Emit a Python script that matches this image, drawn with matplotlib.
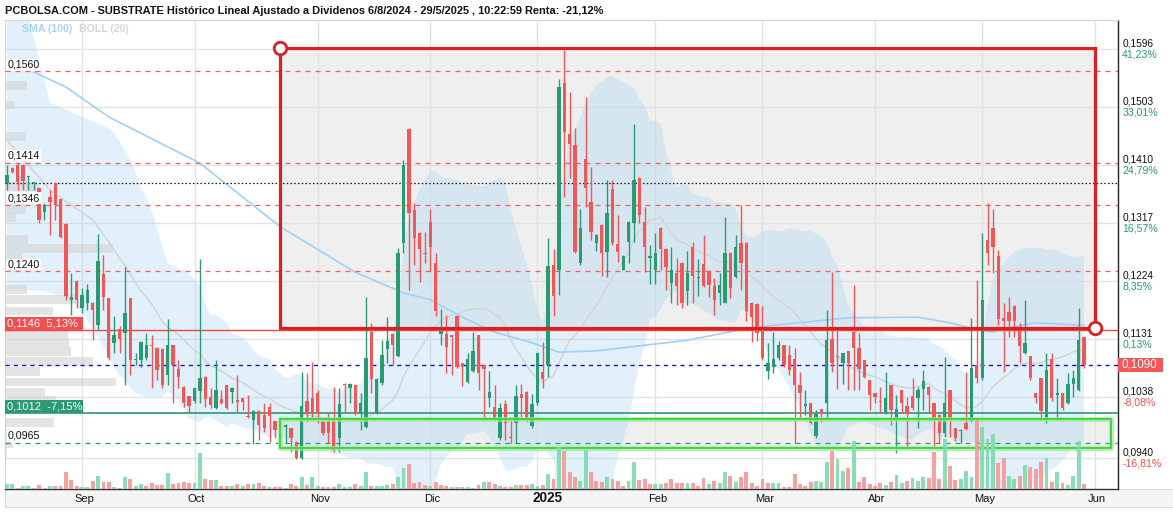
import numpy as np
import pandas as pd
import matplotlib
matplotlib.use('Agg')
import matplotlib.pyplot as plt
from matplotlib.patches import Rectangle
from matplotlib.transforms import blended_transform_factory

# ---- daily OHLC (13/8/2024 .. 29/5/2025) ----
opens = [0.1381,0.1405,0.1410,0.1410,0.1391,0.1381,0.1373,0.1335,0.1359,0.1381,
         0.1356,0.1316,0.1194,0.1224,0.1181,0.1189,0.1189,0.1154,0.1235,0.1196,
         0.1125,0.1147,0.1141,0.1196,0.1098,0.1098,0.1100,0.1122,0.1117,0.1115,
         0.1073,0.1121,0.1083,0.1054,0.1039,0.1031,0.1048,0.1070,0.1038,0.1020,
         0.1035,0.1057,0.1046,0.1033,0.1036,0.1007,0.1001,0.1016,0.1009,0.1022,
         0.0999,0.0977,0.0990,0.0988,0.0966,0.0940,0.1031,0.1036,0.1044,0.0999,
         0.0999,0.1001,0.0972,0.1059,0.1052,0.1057,0.1012,0.0990,0.1143,0.1012,
         0.1060,0.1115,0.1139,0.1103,0.1285,0.1468,0.1338,0.1301,0.1268,0.1319,
         0.1253,0.1139,0.1139,0.1137,0.1168,0.1092,0.1062,0.1079,0.1137,0.1089,
         0.1036,0.1022,0.0972,0.1026,0.0973,0.0996,0.1043,0.1046,0.0991,0.1028,
         0.1078,0.1089,0.1250,0.1242,0.1542,0.1460,0.1442,0.1253,0.1420,0.1351,
         0.1285,0.1314,0.1271,0.1372,0.1284,0.1242,0.1287,0.1317,0.1389,0.1319,
         0.1261,0.1242,0.1309,0.1276,0.1221,0.1237,0.1253,0.1208,0.1279,0.1229,
         0.1251,0.1240,0.1216,0.1205,0.1189,0.1269,0.1231,0.1285,0.1285,0.1189,
         0.1187,0.1146,0.1079,0.1086,0.1100,0.1121,0.1105,0.1099,0.1057,0.1023,
         0.1028,0.0975,0.1018,0.1028,0.1131,0.1104,0.1092,0.1111,0.1143,0.1117,
         0.1097,0.1065,0.1044,0.1031,0.1012,0.1057,0.1001,0.1049,0.1023,0.1039,
         0.1036,0.1051,0.1054,0.1028,0.1009,0.0980,0.1049,0.0988,0.0984,0.0996,
         0.0999,0.1089,0.1068,0.1290,0.1309,0.1264,0.1165,0.1175,0.1184,0.1144,
         0.1108,0.1103,0.1044,0.1068,0.1001,0.1099,0.1041,0.1044,0.1028,0.1059,
         0.1049,0.1134]
highs = [0.1410,0.1407,0.1413,0.1412,0.1393,0.1383,0.1374,0.1349,0.1370,0.1383,
         0.1357,0.1317,0.1237,0.1225,0.1213,0.1220,0.1190,0.1300,0.1266,0.1197,
         0.1168,0.1152,0.1247,0.1197,0.1108,0.1128,0.1141,0.1137,0.1118,0.1116,
         0.1163,0.1122,0.1097,0.1055,0.1040,0.1053,0.1260,0.1071,0.1052,0.1097,
         0.1049,0.1058,0.1054,0.1073,0.1037,0.1041,0.1017,0.1017,0.1028,0.1028,
         0.1000,0.0980,0.0994,0.0989,0.0967,0.1078,0.1076,0.1094,0.1049,0.1000,
         0.1012,0.1054,0.1052,0.1060,0.1060,0.1058,0.1044,0.1198,0.1157,0.1068,
         0.1129,0.1166,0.1140,0.1277,0.1418,0.1469,0.1349,0.1302,0.1303,0.1340,
         0.1269,0.1179,0.1170,0.1138,0.1169,0.1093,0.1108,0.1143,0.1138,0.1090,
         0.1079,0.1057,0.1028,0.1033,0.1001,0.1057,0.1059,0.1047,0.1043,0.1109,
         0.1127,0.1293,0.1276,0.1548,0.1594,0.1527,0.1469,0.1340,0.1519,0.1407,
         0.1299,0.1315,0.1386,0.1386,0.1330,0.1265,0.1320,0.1476,0.1390,0.1343,
         0.1282,0.1301,0.1310,0.1277,0.1279,0.1261,0.1254,0.1272,0.1287,0.1260,
         0.1298,0.1241,0.1229,0.1237,0.1327,0.1270,0.1298,0.1346,0.1286,0.1190,
         0.1188,0.1184,0.1124,0.1143,0.1128,0.1122,0.1121,0.1116,0.1078,0.1050,
         0.1029,0.1017,0.1019,0.1178,0.1239,0.1146,0.1109,0.1112,0.1218,0.1140,
         0.1098,0.1066,0.1045,0.1054,0.1078,0.1058,0.1041,0.1050,0.1038,0.1068,
         0.1054,0.1081,0.1055,0.1029,0.1010,0.1102,0.1050,0.0989,0.0986,0.1078,
         0.1165,0.1226,0.1301,0.1349,0.1340,0.1274,0.1189,0.1198,0.1185,0.1157,
         0.1194,0.1104,0.1045,0.1069,0.1108,0.1108,0.1068,0.1045,0.1076,0.1081,
         0.1181,0.1135]
lows = [0.1370,0.1397,0.1370,0.1370,0.1370,0.1370,0.1317,0.1322,0.1298,0.1322,
        0.1293,0.1194,0.1170,0.1181,0.1173,0.1178,0.1129,0.1146,0.1178,0.1098,
        0.1108,0.1108,0.1057,0.1073,0.1089,0.1086,0.1097,0.1052,0.1065,0.1052,
        0.1057,0.1028,0.1052,0.1022,0.1012,0.1028,0.1028,0.1022,0.1020,0.1019,
        0.1027,0.1019,0.1028,0.1012,0.1017,0.1005,0.0963,0.0969,0.0982,0.0966,
        0.0972,0.0976,0.0964,0.0950,0.0939,0.0938,0.0998,0.1001,0.0996,0.0977,
        0.0964,0.0950,0.0950,0.1012,0.1028,0.1009,0.0985,0.0988,0.1044,0.1010,
        0.1057,0.1092,0.1089,0.1102,0.1269,0.1210,0.1250,0.1223,0.1253,0.1240,
        0.1168,0.1121,0.1076,0.1073,0.1084,0.1055,0.1060,0.1078,0.1049,0.1001,
        0.1022,0.1001,0.0969,0.0969,0.0964,0.0964,0.1006,0.0998,0.0988,0.1025,
        0.1052,0.1070,0.1168,0.1202,0.1359,0.1389,0.1269,0.1250,0.1343,0.1290,
        0.1272,0.1232,0.1231,0.1282,0.1255,0.1241,0.1253,0.1287,0.1317,0.1239,
        0.1220,0.1220,0.1242,0.1210,0.1189,0.1186,0.1181,0.1186,0.1188,0.1200,
        0.1214,0.1198,0.1170,0.1186,0.1188,0.1196,0.1229,0.1210,0.1160,0.1126,
        0.1128,0.1098,0.1067,0.1076,0.1097,0.1086,0.1073,0.0964,0.1003,0.1009,
        0.0994,0.0972,0.0998,0.1003,0.1078,0.1051,0.1059,0.1049,0.1049,0.1049,
        0.1068,0.1017,0.1028,0.1012,0.1011,0.0993,0.0948,0.1012,0.0958,0.1017,
        0.0988,0.1017,0.1014,0.0959,0.0964,0.0974,0.0974,0.0967,0.0964,0.0985,
        0.0998,0.1060,0.1065,0.1250,0.1237,0.1154,0.1078,0.1134,0.1134,0.1092,
        0.1107,0.1066,0.1028,0.1001,0.0996,0.1031,0.1004,0.1017,0.1026,0.1038,
        0.1048,0.1084]
closes = [0.1394,0.1399,0.1383,0.1384,0.1392,0.1382,0.1322,0.1346,0.1351,0.1346,
          0.1295,0.1200,0.1199,0.1194,0.1202,0.1210,0.1178,0.1256,0.1198,0.1100,
          0.1137,0.1131,0.1173,0.1097,0.1099,0.1127,0.1121,0.1119,0.1081,0.1057,
          0.1121,0.1089,0.1070,0.1028,0.1023,0.1052,0.1068,0.1035,0.1025,0.1049,
          0.1028,0.1020,0.1052,0.1030,0.1030,0.1006,0.1016,0.0993,0.0988,0.1007,
          0.0985,0.0978,0.0993,0.0972,0.0940,0.1023,0.1010,0.1010,0.1012,0.0980,
          0.0980,0.0951,0.1026,0.1058,0.1059,0.1012,0.1028,0.1100,0.1067,0.1067,
          0.1105,0.1128,0.1121,0.1269,0.1410,0.1333,0.1293,0.1276,0.1267,0.1279,
          0.1176,0.1144,0.1118,0.1134,0.1086,0.1086,0.1099,0.1111,0.1076,0.1083,
          0.1046,0.1002,0.1020,0.0996,0.0972,0.1039,0.1036,0.1001,0.1026,0.1108,
          0.1067,0.1248,0.1200,0.1535,0.1463,0.1444,0.1271,0.1309,0.1373,0.1303,
          0.1298,0.1269,0.1333,0.1285,0.1271,0.1264,0.1319,0.1386,0.1330,0.1279,
          0.1264,0.1269,0.1276,0.1247,0.1242,0.1216,0.1189,0.1237,0.1232,0.1230,
          0.1216,0.1218,0.1194,0.1218,0.1269,0.1213,0.1279,0.1253,0.1176,0.1167,
          0.1141,0.1100,0.1092,0.1099,0.1121,0.1089,0.1081,0.1057,0.1044,0.1026,
          0.0996,0.1010,0.1010,0.1129,0.1092,0.1102,0.1108,0.1092,0.1117,0.1083,
          0.1070,0.1041,0.1038,0.1030,0.1036,0.1017,0.1018,0.1028,0.1010,0.1020,
          0.1049,0.1064,0.1041,0.1001,0.0980,0.1028,0.1001,0.0972,0.0985,0.0986,
          0.1084,0.1068,0.1194,0.1269,0.1279,0.1163,0.1160,0.1160,0.1160,0.1120,
          0.1125,0.1068,0.1036,0.1015,0.1081,0.1036,0.1044,0.1020,0.1059,0.1068,
          0.1129,0.1090]
# volume (miles de titulos)
volumes = [50,50,15,33,33,10,43,10,27,33, 33,170,93,27,20,20,83,133,70,70,
           20,15,120,100,27,53,27,60,43,37, 160,53,60,70,60,60,360,100,93,93,
           27,27,27,53,27,53,53,60,30,25, 17,17,15,50,30,123,37,117,30,23,
           23,23,47,23,23,47,30,167,33,30, 30,37,47,117,207,247,57,67,40,30,
           73,40,30,23,23,23,23,15,40,73, 73,50,30,23,23,37,37,37,50,30,
           40,147,100,417,385,175,117,85,390,170, 85,70,123,105,80,35,85,275,95,100,
           50,50,50,57,97,57,63,57,63,30, 107,50,83,63,173,130,73,117,173,57,
           33,97,63,63,63,23,23,147,47,30, 73,83,73,273,383,297,183,215,480,67,
           123,50,33,57,43,67,140,57,77,107, 83,117,110,373,100,500,233,90,100,183,
           123,690,617,500,550,260,310,127,100,127, 243,223,200,273,310,73,173,60,40,133,
           483,50]

first_day = '2024-08-13'
holidays = ['2024-12-25', '2024-12-26', '2025-01-01', '2025-04-18', '2025-04-21', '2025-05-01']

# SMA(100) (candle index, value)
sma_idx = [5, 11, 19, 36, 51, 65, 74, 79, 85, 91, 98, 103, 110, 118, 127, 137, 143,
           157, 170, 176, 181, 184, 187, 192, 201]
sma_val = [0.1559, 0.1535, 0.1487, 0.1413, 0.1311, 0.1238, 0.1205, 0.1194, 0.1166,
           0.1142, 0.1125, 0.1110, 0.1112, 0.1120, 0.1129, 0.1146, 0.1153, 0.1165,
           0.1166, 0.1157, 0.1146, 0.1142, 0.1149, 0.1157, 0.1153]

# first part of BOLL(20) (needs history before the window)
boll_early_idx = [0, 4, 6, 8, 12, 16]
boll_early_up = [0.1700, 0.1645, 0.1580, 0.1510, 0.1495, 0.1480]
boll_early_mid = [0.1450, 0.1410, 0.1390, 0.1370, 0.1346, 0.1322]
boll_early_lo = [0.1210, 0.1210, 0.1208, 0.1206, 0.1194, 0.1150]

# volume by price profile (left side)
prof_price = [0.1538, 0.1506, 0.1456, 0.1376, 0.1339, 0.1326, 0.1291, 0.1276, 0.1262,
              0.1210, 0.1194, 0.1176, 0.1139, 0.1125, 0.1111, 0.1095, 0.1079, 0.1062,
              0.1046, 0.1032, 0.0997, 0.0980, 0.0963, 0.0947]
prof_vol = [22, 10, 21, 33, 21, 11, 23, 107, 17, 22, 70, 47, 62, 63, 65, 87, 35, 110,
            40, 50, 48, 5, 8, 2]

# right axis
right_ticks = [0.1596, 0.1503, 0.1410, 0.1317, 0.1224, 0.1131, 0.1038, 0.0940]
right_pct = ['41,23%', '33,01%', '24,79%', '16,57%', '8,35%', '0,13%', '-8,08%', '-16,81%']

# drawing levels
red_dash_levels = [0.1560, 0.1414, 0.1346, 0.1240]
dotted_level = 0.1381
res_level, res_pct = 0.1146, '5,13%'
sup_level, sup_pct = 0.1012, '-7,15%'
low_level = 0.0965
red_box = ('2024-10-23', '2025-06-02', 0.1598, 0.1148)
green_box = ('2024-10-23', '2025-06-05', 0.1003, 0.0956)

month_keys = ['2024-09', '2024-10', '2024-11', '2024-12', '2025-01', '2025-02',
              '2025-03', '2025-04', '2025-05', '2025-06']
month_labels = ['Sep', 'Oct', 'Nov', 'Dic', '2025', 'Feb', 'Mar', 'Abr', 'May', 'Jun']

title = ('PCBOLSA.COM - SUBSTRATE Histórico Lineal Ajustado a Dividenos '
         '6/8/2024 - 29/5/2025 , 10:22:59 Renta: -21,12%')

# ---------------------------------------------------------------
plt.rcParams['font.family'] = ['Liberation Sans', 'DejaVu Sans']

o = np.array(opens); h = np.array(highs); l = np.array(lows); c = np.array(closes)
v = np.array(volumes)
n = len(o)
assert len(h) == n and len(l) == n and len(c) == n and len(v) == n

cal = pd.bdate_range(first_day, '2025-06-30', freq='C', holidays=holidays)
pos = {d: i for i, d in enumerate(cal)}
def xpos(d):
    return pos[pd.Timestamp(d)]
month_pos = [int(np.argmax(cal.strftime('%Y-%m') == m)) for m in month_keys]

def fmt(p):
    return f'{p:.4f}'.replace('.', ',')

W, H = 1173, 512
fig = plt.figure(figsize=(W / 100, H / 100), dpi=100)
ax = fig.add_axes([5 / W, 23 / H, 1113 / W, 469 / H])
ytop, ybot = 0.16425, 0.08905
ax.set_ylim(ybot, ytop)
ax.set_xlim(-0.37, 207.35)
ppx = (ytop - ybot) / 469.0   # price per pixel
GREEN, RED = '#2a9a72', '#f25757'

# grid
ax.set_axisbelow(True)
ax.set_yticks(right_ticks)
ax.set_yticklabels([])
ax.set_xticks(month_pos)
ax.set_xticklabels([])
ax.grid(True, color='#e3e3e3', lw=1)
ax.tick_params(axis='both', length=0)
for s in ['left', 'top']:
    ax.spines[s].set_color('#d5d5d5'); ax.spines[s].set_linewidth(0.8)
ax.spines['right'].set_color('#222222'); ax.spines['right'].set_linewidth(1)
ax.spines['bottom'].set_color('#333333'); ax.spines['bottom'].set_linewidth(1)

# month labels in the date band (year label a bit to the right, like the source)
trx = blended_transform_factory(ax.transData, ax.transAxes)
for mp, ml in zip(month_pos, month_labels):
    bold = ml == '2025'
    ax.text(mp + (1.8 if bold else 0.4), -9.5 / 469, ml, transform=trx, ha='center',
            va='center', fontsize=9.8 if bold else 8.0,
            fontweight='bold' if bold else 'normal', color='#111111', clip_on=False)

# boxes (fill)
rx0, rx1 = xpos(red_box[0]), xpos(red_box[1])
gx0, gx1 = xpos(green_box[0]), xpos(green_box[1])
ax.add_patch(Rectangle((rx0, red_box[3]), rx1 - rx0, red_box[2] - red_box[3],
                       fc='#e2e2e2', alpha=0.55, ec='none', zorder=1))
ax.add_patch(Rectangle((gx0, green_box[3]), gx1 - gx0, green_box[2] - green_box[3],
                       fc='#e2e2e2', alpha=0.55, ec='none', zorder=1))

# bollinger
s = pd.Series(c)
mid = s.rolling(20).mean()
sd = s.rolling(20).std(ddof=0)
bx = boll_early_idx + list(range(19, n))
bu = boll_early_up + list((mid + 2 * sd)[19:])
bm = boll_early_mid + list(mid[19:])
bl = boll_early_lo + list((mid - 2 * sd)[19:])
ax.fill_between(bx, bl, bu, color='#a9d6f5', alpha=0.35, lw=0, zorder=2)
ax.plot(bx, bm, color='#d4d4d4', lw=1.1, zorder=2.5)

# volume profile
pw = np.array(prof_vol) / max(prof_vol) * 0.100 * (207.35 + 0.37)
ax.barh(prof_price, pw, left=-0.37, height=0.00140, color='#d2d2d2', alpha=0.6,
        lw=0, zorder=2.8)

# sma 100
ax.plot(sma_idx, sma_val, color='#9fd0f5', lw=1.2, zorder=3)

# levels
for lv in red_dash_levels:
    ax.axhline(lv, color='#f06060', lw=0.9, dashes=(4, 4), zorder=3.5)
ax.axhline(dotted_level, color='#111111', lw=0.9, dashes=(1.2, 1.8), zorder=3.5)
ax.axhline(res_level, color='#f04545', lw=1, zorder=3.5)
ax.axhline(sup_level, color=GREEN, lw=1.2, zorder=3.5)
ax.axhline(low_level, color=GREEN, lw=0.9, dashes=(4, 4), zorder=3.5)
ax.axhline(c[-1], color='#1616c8', lw=1, dashes=(3, 3), zorder=3.5)

# candles
x = np.arange(n)
upc = c >= o
col = np.where(upc, GREEN, RED)
ax.vlines(x, l, h, colors=col, lw=1, zorder=4)
ax.bar(x, np.maximum(np.abs(c - o), ppx), bottom=np.minimum(o, c), width=0.62,
       color=col, lw=0, zorder=4.2)

# box edges
ax.plot([rx0, rx1, rx1, rx0, rx0], [red_box[2], red_box[2], red_box[3], red_box[3], red_box[2]],
        color='#dd1f1f', lw=2.3, zorder=6, solid_joinstyle='miter')
ax.plot([rx0, rx1], [red_box[2], red_box[3]], 'o', ms=9, mfc='white', mec='#dd1f1f',
        mew=2, zorder=6.5)
gxs = [gx0, gx1, gx1, gx0, gx0]
gys = [green_box[2], green_box[2], green_box[3], green_box[3], green_box[2]]
ax.plot(gxs, gys, color='#9be89b', lw=3.6, alpha=0.7, zorder=5.8)
ax.plot(gxs, gys, color='#3fd63f', lw=1.4, zorder=6)

# volume
ax2 = ax.twinx()
ax2.set_ylim(0, 4690)
ax2.set_xlim(ax.get_xlim())
ax2.set_axis_off()
prev = np.concatenate([[o[0]], c[:-1]])
vcol = np.where(c >= prev, '#7fdaae', '#f69797')
ax2.bar(x, v, width=0.72, color=vcol, lw=0, alpha=0.9)

# left labels
tr = blended_transform_factory(ax.transAxes, ax.transData)
for lv in red_dash_levels + [low_level]:
    ax.annotate(fmt(lv), xy=(0.0, lv), xycoords=tr, xytext=(2, 1.2),
                textcoords='offset points', ha='left', va='bottom', fontsize=7.7,
                color='#111111', zorder=8,
                bbox=dict(fc='white', ec='none', pad=0.6))
for lv, pct, fc in [(res_level, res_pct, '#f25050'), (sup_level, sup_pct, '#2a9a72')]:
    ax.add_patch(Rectangle((0, lv), 78 / 1113, 13 * ppx, transform=tr, fc=fc,
                           ec='none', zorder=8))
    ax.text(2 / 1113, lv + 6.5 * ppx, fmt(lv) + '  ' + pct, transform=tr, ha='left',
            va='center', fontsize=8.0, color='white', zorder=9)

# right labels
for tp, pct in zip(right_ticks, right_pct):
    ax.annotate(fmt(tp), xy=(1.0, tp), xycoords=tr, xytext=(3, 3.7),
                textcoords='offset points', ha='left', va='center',
                fontsize=7.3, color='#111111', annotation_clip=False)
    ax.annotate(pct, xy=(1.0, tp), xycoords=tr, xytext=(3, -3.8),
                textcoords='offset points', ha='left', va='center', fontsize=7.6,
                color=GREEN if not pct.startswith('-') else '#f25050',
                annotation_clip=False)
ax.add_patch(Rectangle((1.0, c[-1] - 7 * ppx), 45 / 1113, 14 * ppx, transform=tr,
                       fc='#f25757', ec='none', clip_on=False, zorder=9))
ax.text(1.0 + 3 / 1113, c[-1], fmt(c[-1]), transform=tr, ha='left', va='center',
        fontsize=8.4, color='white', zorder=10, clip_on=False)

# title, legend, x band
fig.text(5 / W, 1 - 11 / H, title, fontsize=7.95, fontweight='bold',
         ha='left', va='center', color='#111111')
fig.text(22 / W, 1 - 29 / H, 'SMA (100)', fontsize=7.6, fontweight='bold',
         color='#a8d4f4', ha='left', va='center')
fig.text(79 / W, 1 - 29 / H, 'BOLL (20)', fontsize=7.6, fontweight='bold',
         color='#d6d6d6', ha='left', va='center')
fig.patches.append(Rectangle((5 / W, 5 / H), 1168 / W, 18 / H, transform=fig.transFigure,
                             fc='#f5f5f5', ec='#dcdcdc', lw=0.8, zorder=-1))

fig.savefig('out.png', dpi=100)
